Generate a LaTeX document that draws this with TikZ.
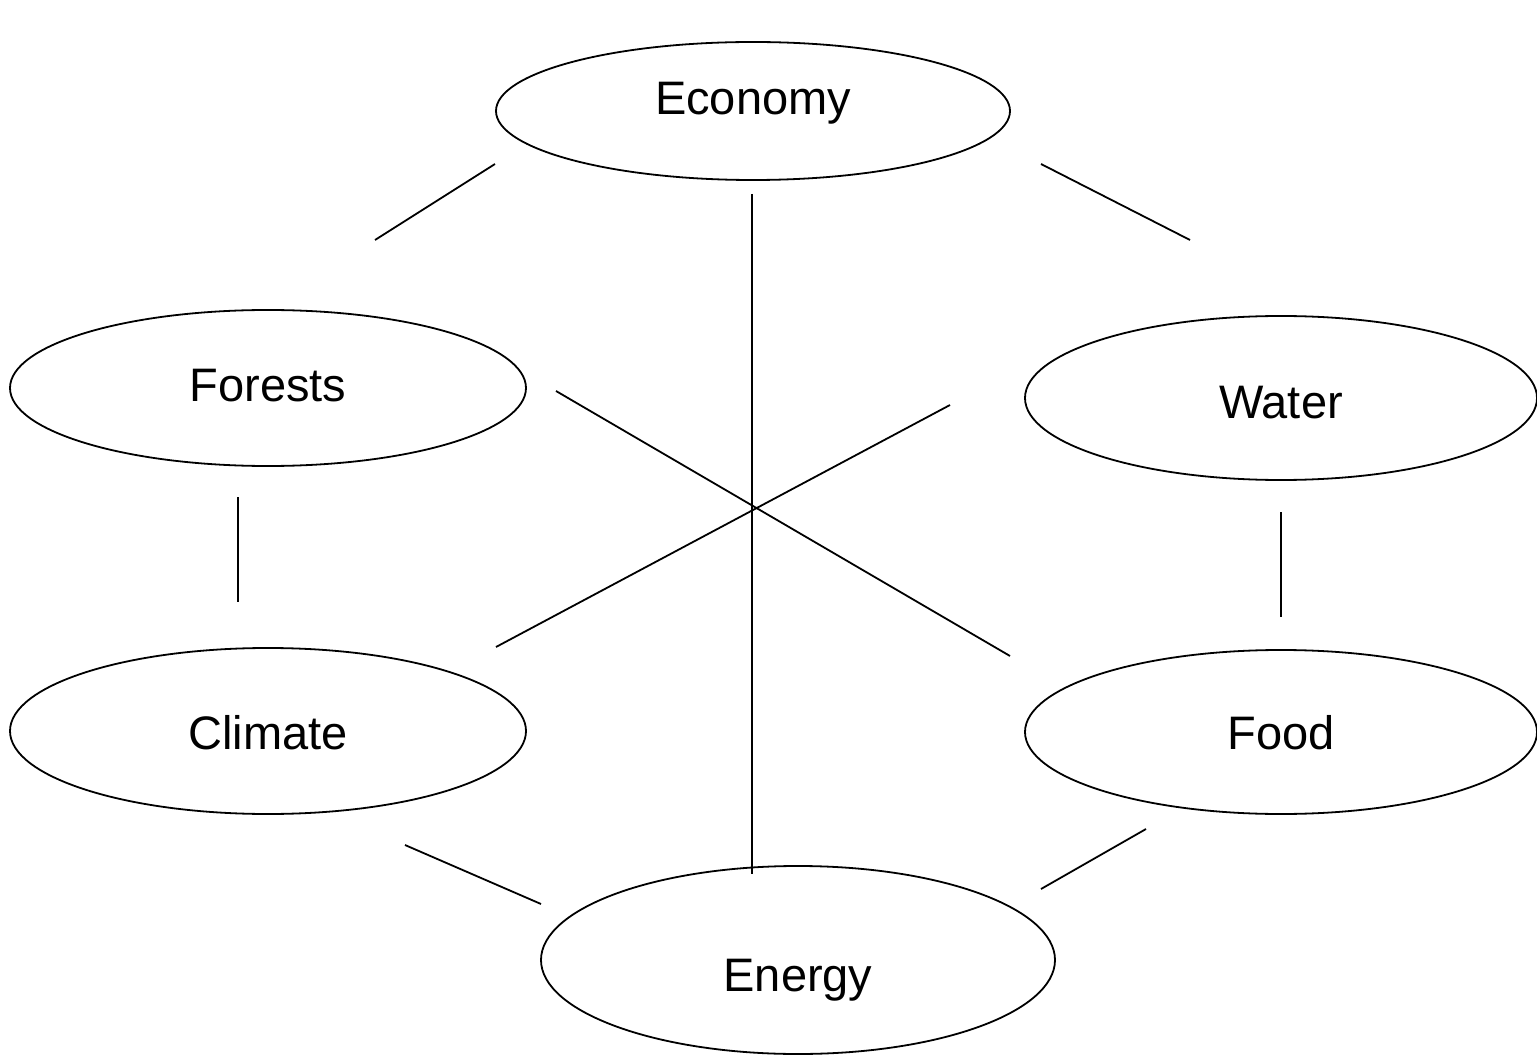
\documentclass[tikz,border=0pt]{standalone}
\usepackage{fontspec}
\setmainfont{Liberation Sans}
\usetikzlibrary{shapes.geometric}
\tikzset{
  ell/.style={draw=black, line width=1.8pt, ellipse, inner sep=0pt, outer sep=0pt},
  lbl/.style={anchor=base, inner sep=0pt, font=\fontsize{47}{56}\selectfont},
  conn/.style={draw=black, line width=1.8pt}
}
\begin{document}
\begin{tikzpicture}[x=1pt,y=-1pt]
\useasboundingbox (0,0) rectangle (1537,1056);
% ellipses
\node[ell, minimum width=514pt, minimum height=138pt] (eco) at (753,111) {};
\node[ell, minimum width=516pt, minimum height=156pt] (for) at (268,388) {};
\node[ell, minimum width=512pt, minimum height=164pt] (wat) at (1281,398) {};
\node[ell, minimum width=516pt, minimum height=166pt] (cli) at (268,731) {};
\node[ell, minimum width=512pt, minimum height=164pt] (foo) at (1281,732) {};
\node[ell, minimum width=514pt, minimum height=188pt] (ene) at (798,960) {};
% labels
\node[lbl] (teco) at (753,115) {Economy};
\node[lbl] (tfor) at (268,402) {Forests};
\node[lbl] (twat) at (1281,418) {Water};
\node[lbl] (tcli) at (268,749) {Climate};
\node[lbl] (tfoo) at (1281,749) {Food};
\node[lbl] (tene) at (798,991) {Energy};
% connector ends
\coordinate (a1) at (495,164); \coordinate (a2) at (375,240);
\coordinate (b1) at (1041,164); \coordinate (b2) at (1190,240);
\coordinate (c1) at (752,194); \coordinate (c2) at (752,874);
\coordinate (d1) at (556,391); \coordinate (d2) at (1010,656);
\coordinate (e1) at (950,405); \coordinate (e2) at (496,647);
\coordinate (f1) at (238,497); \coordinate (f2) at (238,602);
\coordinate (g1) at (1281,512); \coordinate (g2) at (1281,617);
\coordinate (h1) at (405,845); \coordinate (h2) at (541,904);
\coordinate (i1) at (1146,829); \coordinate (i2) at (1041,889);
\draw[conn] (a1) -- (a2);
\draw[conn] (b1) -- (b2);
\draw[conn] (c1) -- (c2);
\draw[conn] (d1) -- (d2);
\draw[conn] (e1) -- (e2);
\draw[conn] (f1) -- (f2);
\draw[conn] (g1) -- (g2);
\draw[conn] (h1) -- (h2);
\draw[conn] (i1) -- (i2);
\end{tikzpicture}
\end{document}
